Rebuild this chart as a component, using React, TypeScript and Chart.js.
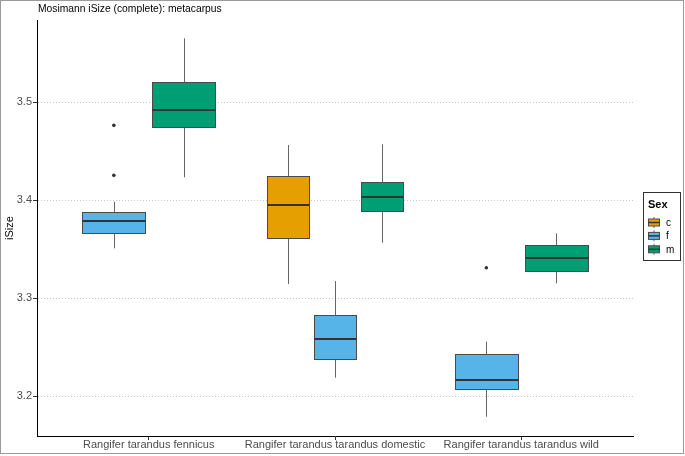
import React, { useEffect, useRef } from "react";
import { Chart, registerables } from "chart.js";

Chart.register(...registerables);

const FONT = "'Liberation Sans', Arial, Helvetica, sans-serif";

const chartTitle = "Mosimann iSize (complete): metacarpus";
const yAxisTitle = "iSize";
const legendTitle = "Sex";

const categories = [
  "Rangifer tarandus fennicus",
  "Rangifer tarandus tarandus domestic",
  "Rangifer tarandus tarandus wild",
];
const sexLevels = ["c", "f", "m"];
const sexColors = ["#E69F00", "#56B4E9", "#009E73"];

// one entry per box
const boxCategory = [0, 0, 1, 1, 1, 2, 2];
const boxSex = ["f", "m", "c", "f", "m", "f", "m"];
const whiskerLow = [3.3507, 3.4232, 3.3143, 3.2187, 3.3564, 3.1789, 3.315];
const lowerQuartile = [3.366, 3.4742, 3.3615, 3.2374, 3.3891, 3.2071, 3.3279];
const medianValue = [3.3789, 3.4918, 3.3949, 3.2579, 3.4034, 3.216, 3.3405];
const upperQuartile = [3.3874, 3.5207, 3.4245, 3.2823, 3.418, 3.2425, 3.3538];
const whiskerHigh = [3.3983, 3.565, 3.4561, 3.3173, 3.4568, 3.2554, 3.366];

// outliers
const outlierCategory = [0, 0, 2];
const outlierSex = ["f", "f", "f"];
const outlierValue = [3.4762, 3.4252, 3.3309];

const yTicks = [3.2, 3.3, 3.4, 3.5];
const yMin = 3.1592;
const yMax = 3.5837;

const DODGE_WIDTH = 0.75;
const BOX_PADDING = 0.1;

function computeDodge() {
  return boxCategory.map((cat, i) => {
    const siblings = boxCategory
      .map((c, j) => (c === cat ? j : -1))
      .filter((j) => j >= 0)
      .sort((a, b) => sexLevels.indexOf(boxSex[a]) - sexLevels.indexOf(boxSex[b]));
    const n = siblings.length;
    const slot = siblings.indexOf(i);
    const slotW = DODGE_WIDTH / n;
    const center = cat + 1 - DODGE_WIDTH / 2 + (slot + 0.5) * slotW;
    const half = (slotW * (1 - BOX_PADDING)) / 2;
    return { center, half };
  });
}

export default function App() {
  const ref = useRef<HTMLCanvasElement>(null);

  useEffect(() => {
    document.body.style.margin = "0";
    const canvas = ref.current!;
    const dodge = computeDodge();

    const outlierPoints = outlierValue.map((v, i) => {
      const b = boxCategory.findIndex(
        (c, j) => c === outlierCategory[i] && boxSex[j] === outlierSex[i]
      );
      return { x: dodge[b].center, y: v };
    });

    const boxPlugin = {
      id: "boxes",
      beforeDatasetsDraw(chart: any) {
        const { ctx, chartArea } = chart;
        const x = chart.scales.x;
        const y = chart.scales.y;
        ctx.save();
        ctx.beginPath();
        ctx.rect(chartArea.left, chartArea.top, chartArea.width, chartArea.height);
        ctx.clip();
        for (let i = 0; i < boxCategory.length; i++) {
          const { center, half } = dodge[i];
          const xc = Math.round(x.getPixelForValue(center)) + 0.5;
          const xl = Math.round(x.getPixelForValue(center - half)) + 0.5;
          const xr = Math.round(x.getPixelForValue(center + half)) + 0.5;
          const yLo = y.getPixelForValue(whiskerLow[i]);
          const yQ1 = Math.round(y.getPixelForValue(lowerQuartile[i])) + 0.5;
          const yMed = y.getPixelForValue(medianValue[i]);
          const yQ3 = Math.round(y.getPixelForValue(upperQuartile[i])) + 0.5;
          const yHi = y.getPixelForValue(whiskerHigh[i]);
          const color = sexColors[sexLevels.indexOf(boxSex[i])];

          ctx.strokeStyle = "#666666";
          ctx.lineWidth = 1;
          ctx.beginPath();
          ctx.moveTo(xc, yHi);
          ctx.lineTo(xc, yQ3);
          ctx.moveTo(xc, yQ1);
          ctx.lineTo(xc, yLo);
          ctx.stroke();

          ctx.fillStyle = color;
          ctx.fillRect(xl, yQ3, xr - xl, yQ1 - yQ3);
          ctx.strokeStyle = "#4a4a4a";
          ctx.lineWidth = 1;
          ctx.strokeRect(xl, yQ3, xr - xl, yQ1 - yQ3);

          ctx.strokeStyle = "#333333";
          ctx.lineWidth = 2;
          ctx.beginPath();
          ctx.moveTo(xl, Math.round(yMed));
          ctx.lineTo(xr, Math.round(yMed));
          ctx.stroke();
        }
        ctx.restore();
      },
    };

    const decorPlugin = {
      id: "decor",
      afterDraw(chart: any) {
        const { ctx } = chart;
        ctx.save();
        // outer frame
        ctx.strokeStyle = "#9a9a9a";
        ctx.lineWidth = 1;
        ctx.strokeRect(0.5, 0.5, 683, 453);

        // title
        ctx.fillStyle = "#000";
        ctx.font = `10.3px ${FONT}`;
        ctx.textBaseline = "middle";
        ctx.textAlign = "left";
        ctx.fillText(chartTitle, 38, 9.5);

        // legend
        ctx.strokeStyle = "#333";
        ctx.strokeRect(643.5, 192.5, 37, 68);
        ctx.font = `bold 11px ${FONT}`;
        ctx.fillText(legendTitle, 648, 205);
        ctx.font = `10px ${FONT}`;
        sexLevels.forEach((s, k) => {
          const yc = 222.5 + k * 13.4;
          const bx = 648.5;
          const bw = 11;
          const xc = bx + bw / 2;
          ctx.strokeStyle = "#666";
          ctx.lineWidth = 1;
          ctx.beginPath();
          ctx.moveTo(xc, yc - 5.5);
          ctx.lineTo(xc, yc + 5.5);
          ctx.stroke();
          ctx.fillStyle = sexColors[k];
          ctx.fillRect(bx, yc - 3.5, bw, 7);
          ctx.strokeStyle = "#4a4a4a";
          ctx.strokeRect(bx, yc - 3.5, bw, 7);
          ctx.strokeStyle = "#333";
          ctx.lineWidth = 1.5;
          ctx.beginPath();
          ctx.moveTo(bx, yc);
          ctx.lineTo(bx + bw, yc);
          ctx.stroke();
          ctx.fillStyle = "#000";
          ctx.fillText(s, 666, yc + 0.5);
        });
        ctx.restore();
      },
    };

    const chart = new Chart(canvas, {
      type: "scatter",
      data: {
        datasets: [
          {
            data: outlierPoints,
            pointRadius: 1.8,
            pointBackgroundColor: "#333",
            pointBorderColor: "#333",
            pointBorderWidth: 0,
          },
        ],
      },
      options: {
        animation: false,
        responsive: false,
        events: [],
        layout: { padding: { top: 20, right: 52, left: 0, bottom: 0 } },
        plugins: { legend: { display: false }, tooltip: { enabled: false } },
        scales: {
          x: {
            type: "linear",
            min: 0.4,
            max: 3.6,
            afterBuildTicks: (s: any) => {
              s.ticks = categories.map((_, i) => ({ value: i + 1 }));
            },
            afterFit: (s: any) => {
              s.height = 20;
            },
            ticks: {
              callback: (v: any) => categories[Math.round(Number(v)) - 1],
              font: { family: FONT, size: 11 },
              color: "#4d4d4d",
              padding: -2,
              autoSkip: false,
              maxRotation: 0,
              minRotation: 0,
            },
            grid: {
              drawOnChartArea: false,
              drawTicks: true,
              tickLength: 4,
              tickColor: "#333",
            },
            border: { color: "#000", width: 1 },
          },
          y: {
            type: "linear",
            min: yMin,
            max: yMax,
            afterBuildTicks: (s: any) => {
              s.ticks = yTicks.map((v) => ({ value: v }));
            },
            afterFit: (s: any) => {
              s.width = 37;
            },
            ticks: {
              callback: (v: any) => Number(v).toFixed(1),
              font: { family: FONT, size: 11 },
              color: "#4d4d4d",
              padding: 1,
            },
            grid: {
              color: "#c8c8c8",
              lineWidth: 1,
              drawTicks: true,
              tickLength: 4,
              tickColor: "#333",
            },
            border: { color: "#000", width: 1, dash: [1, 2] },
            title: {
              display: true,
              text: yAxisTitle,
              font: { family: FONT, size: 11 },
              color: "#000",
              padding: { top: 3.4, bottom: 0 },
            },
          },
        },
      },
      plugins: [boxPlugin, decorPlugin],
    } as any);

    return () => chart.destroy();
  }, []);

  return (
    <canvas
      ref={ref}
      width={685}
      height={456}
      style={{ display: "block", width: 685, height: 456 }}
    />
  );
}
